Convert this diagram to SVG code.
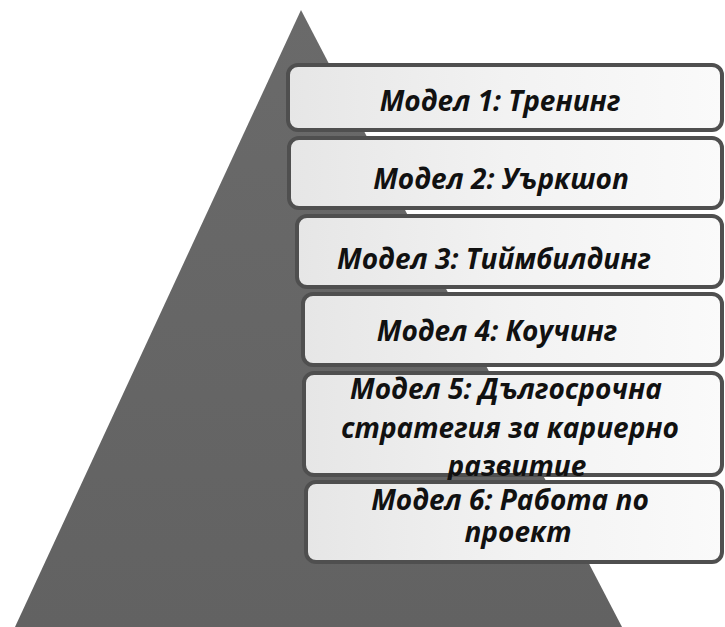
<svg xmlns="http://www.w3.org/2000/svg" width="725" height="627" viewBox="0 0 725 627">
  <style>
    .box { fill: url(#boxFill); stroke: #4f4f4f; stroke-width: 4; }
    .lbl { font-family: "Open Sans", "Noto Sans", "DejaVu Sans", sans-serif; font-weight: bold; font-style: italic; font-size: 28px; fill: #111; text-anchor: middle; }
  </style>
  <defs>
    <linearGradient id="boxFill" x1="0" y1="0" x2="1" y2="0">
      <stop offset="0" stop-color="#e6e6e6"/>
      <stop offset="0.5" stop-color="#f2f2f2"/>
      <stop offset="1" stop-color="#fafafa"/>
    </linearGradient>
    <linearGradient id="triFill" x1="0" y1="0" x2="0" y2="1">
      <stop offset="0" stop-color="#6a6a6a"/>
      <stop offset="1" stop-color="#626262"/>
    </linearGradient>
  </defs>
  <rect width="725" height="627" fill="#ffffff"/>
  <g id="pyramid">
    <polygon points="301,10 15,627 622,627" fill="url(#triFill)"/>
  </g>
  <g id="connectors"></g>
  <g id="model1">
    <rect class="box" x="288" y="65" width="434" height="65" rx="10"/>
    <text class="lbl" x="500" y="111">Модел 1: Тренинг</text>
  </g>
  <g id="model2">
    <rect class="box" x="289" y="138" width="433" height="70" rx="10"/>
    <text class="lbl" x="501" y="189">Модел 2: Уъркшоп</text>
  </g>
  <g id="model3">
    <rect class="box" x="297" y="216" width="425" height="71" rx="10"/>
    <text class="lbl" x="494" y="269">Модел 3: Тиймбилдинг</text>
  </g>
  <g id="model4">
    <rect class="box" x="303" y="294" width="419" height="71" rx="10"/>
    <text class="lbl" x="497" y="341">Модел 4: Коучинг</text>
  </g>
  <g id="model5">
    <rect class="box" x="304" y="373" width="418" height="102" rx="10"/>
    <text class="lbl" x="506" y="399">Модел 5: Дългосрочна</text>
    <text class="lbl" x="510" y="438">стратегия за кариерно</text>
    <text class="lbl" x="517" y="476">развитие</text>
  </g>
  <g id="model6">
    <rect class="box" x="306" y="482" width="416" height="80" rx="10"/>
    <text class="lbl" x="510" y="510">Модел 6: Работа по</text>
    <text class="lbl" x="518" y="542">проект</text>
  </g>
</svg>
